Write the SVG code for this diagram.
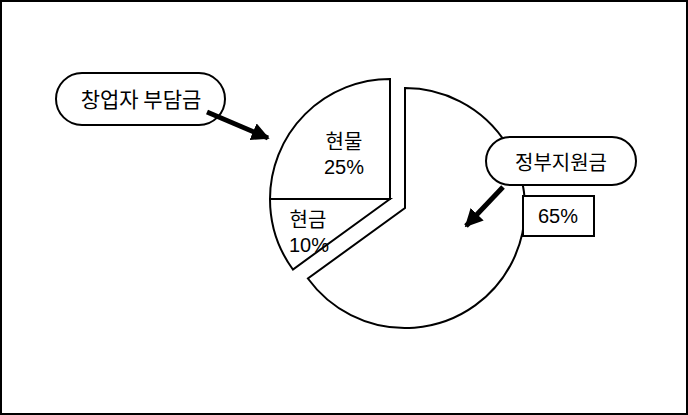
<svg xmlns="http://www.w3.org/2000/svg" width="688" height="415" viewBox="0 0 688 415">
<defs>
<style>
.s{fill:#fff;stroke:#000;stroke-width:2}
.t{font-family:"Noto Sans CJK KR","Noto Sans",sans-serif;font-size:20px;fill:#000;text-anchor:middle}
.n{font-family:"Liberation Sans","Noto Sans",sans-serif;font-size:20px;fill:#000;text-anchor:middle}
.a{stroke:#000;stroke-width:5;fill:none}
</style>
<marker id="ah" viewBox="0 0 10 10" refX="9" refY="5" markerWidth="3.6" markerHeight="3.6" orient="auto" markerUnits="strokeWidth">
<path d="M0,0 L10,5 L0,10 Z" fill="#000"/>
</marker>
</defs>
<rect x="1" y="1" width="686" height="413" fill="#fff" stroke="#000" stroke-width="2"/>
<g id="pie">
<g id="slice-gov">
<path class="s" d="M405,208 L405,88 A120,120 0 1 1 307.9,278.5 Z"/>
</g>
<g id="slice-inkind">
<path class="s" d="M390,199 L270,199 A120,120 0 0 1 390,79 Z"/>
<text class="t" x="344" y="149">현물</text>
<text class="n" x="344" y="174">25%</text>
</g>
<g id="slice-cash">
<path class="s" d="M390,199 L292.9,269.5 A120,120 0 0 1 270,199 Z"/>
<text class="t" x="308" y="227">현금</text>
<text class="n" x="309" y="252">10%</text>
</g>
</g>
<g id="callout-founder">
<rect class="s" x="56" y="73" width="169" height="52" rx="26" ry="26"/>
<text class="t" x="141" y="107" style="font-size:21px">창업자 부담금</text>
</g>
<g id="callout-gov">
<rect class="s" x="486" y="137" width="150" height="48" rx="24" ry="24"/>
<text class="t" x="561" y="170">정부지원금</text>
</g>
<g id="label-65">
<rect class="s" x="523" y="196" width="71" height="40"/>
<text class="n" x="558" y="223">65%</text>
</g>
<g id="connectors">
<line class="a" x1="207" y1="112" x2="268" y2="138" marker-end="url(#ah)"/>
<line class="a" x1="503" y1="187" x2="466" y2="226" marker-end="url(#ah)"/>
</g>
</svg>
